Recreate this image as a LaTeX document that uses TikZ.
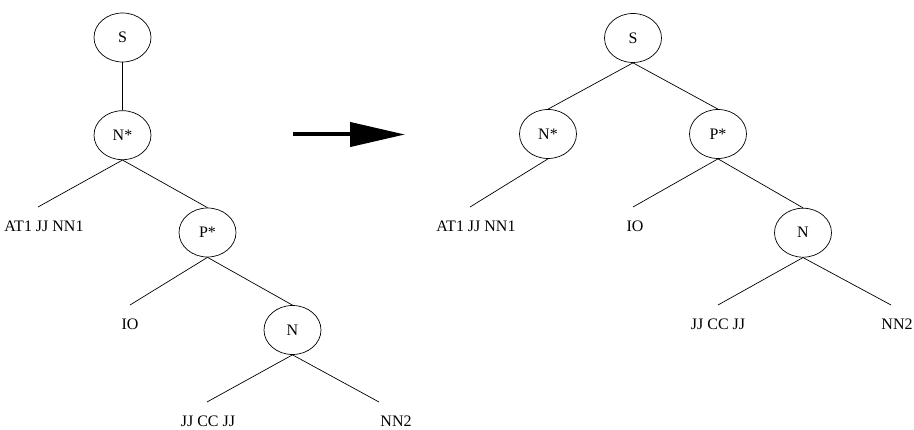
\documentclass[tikz,border=0pt]{standalone}
\usepackage{fontspec}
\setmainfont{Liberation Serif}
\usetikzlibrary{shapes.geometric, positioning, arrows.meta}

\tikzset{
  cat/.style={draw, ellipse, minimum width=57pt, minimum height=49pt, inner sep=0pt},
  tag/.style={inner sep=0pt, text height=10.6pt, text depth=0pt},
}

\begin{document}
\begin{tikzpicture}[x=1pt, y=-1pt, font=\fontsize{16}{19}\selectfont, line width=0.7pt]
        \useasboundingbox (0,0) rectangle (914,430);

        % tree before the move
        \node[cat] (s1) at (122.5,37.5) {S};
        \node[cat] (ns1) [below=48pt of s1] {N*};
        \node[cat] (ps1) at (207.5,232.5) {P*};
        \node[cat] (n1) at (292.5,330) {N};

        \coordinate (a1) at (38,207);
        \coordinate (io1) at (130,305);
        \coordinate (jj1) at (207,402);
        \coordinate (nn1) at (379,402);

        \node[tag] (ta1) [below=14pt of a1, xshift=6pt] {AT1 JJ NN1};
        \node[tag] (tio1) [below=14pt of io1] {IO};
        \node[tag] (tjj1) [below=14pt of jj1, xshift=1pt] {JJ CC JJ};
        \node[tag] (tnn1) [below=14pt of nn1, xshift=17pt] {NN2};

        % tree after the move
        \node[cat] (s2) at (633,38) {S};
        \node[cat] (ns2) at (548,134) {N*};
        \node[cat] (ps2) at (718,134) {P*};
        \node[cat] (n2) [below=49pt of ps2, xshift=85pt] {N};

        \coordinate (a2) at (470,207);
        \coordinate (io2) at (633,207);
        \coordinate (jj2) at (718,305);
        \coordinate (nn2) at (891,305);

        \node[tag] (ta2) [below=14pt of a2, xshift=6pt] {AT1 JJ NN1};
        \node[tag] (tio2) [below=14pt of io2, xshift=2pt] {IO};
        \node[tag] (tjj2) [below=14pt of jj2] {JJ CC JJ};
        \node[tag] (tnn2) [below=14pt of nn2, xshift=6pt] {NN2};

        % the move itself
        \coordinate (from) at (293,134.5);
        \coordinate (to) at (405,134.5);
        \draw[line width=4pt, -{Triangle[length=55pt, width=24pt]}] (from) -- (to);

        \path[draw]
        (s1) edge (ns1)
        (ns1.south) edge (a1)
        (ns1.south) edge (ps1.north)
        (ps1.south) edge (io1)
        (ps1.south) edge (n1.north)
        (n1.south) edge (jj1)
        (n1.south) edge (nn1)

        (s2.south) edge (ns2.north)
        (s2.south) edge (ps2.north)
        (ns2.south) edge (a2)
        (ps2.south) edge (io2)
        (ps2.south) edge (n2.north)
        (n2.south) edge (jj2)
        (n2.south) edge (nn2);

    \end{tikzpicture}
\end{document}
